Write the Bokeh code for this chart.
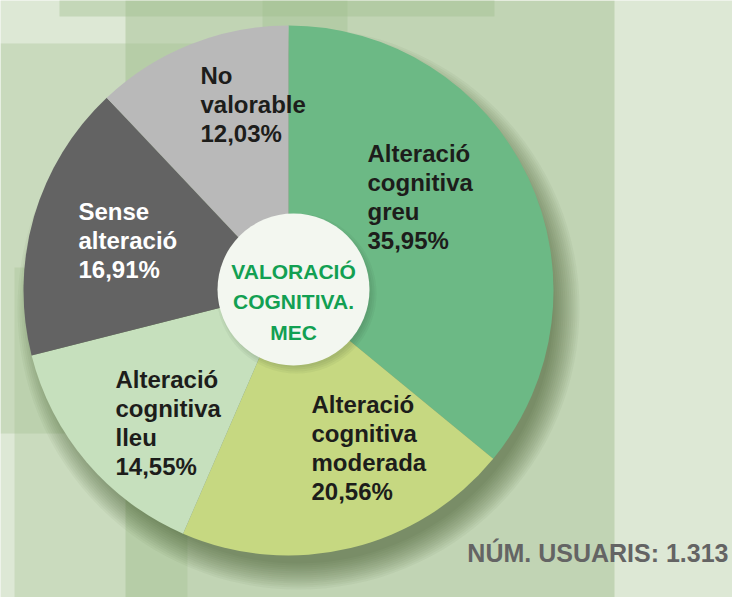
import math
from bokeh.plotting import figure
from bokeh.models import ColumnDataSource, Range1d
from bokeh.core.properties import value
from bokeh.embed import file_html
from bokeh.resources import INLINE

# ---------------- data ----------------
categories = ["Alteració cognitiva greu", "Alteració cognitiva moderada",
              "Alteració cognitiva lleu", "Sense alteració", "No valorable"]
percentages = [35.95, 20.56, 14.55, 16.91, 12.03]
label_names = [["Alteració", "cognitiva", "greu"],
               ["Alteració", "cognitiva", "moderada"],
               ["Alteració", "cognitiva", "lleu"],
               ["Sense", "alteració"],
               ["No", "valorable"]]
center_title = ["VALORACIÓ", "COGNITIVA.", "MEC"]
users_label = "NÚM. USUARIS: 1.313"

# ---------------- styles / layout ----------------
slice_colors = ["#6cb985", "#c6d881", "#c6e0bd", "#636363", "#b9b9b9"]
label_colors = ["#1d1d1b", "#1d1d1b", "#1d1d1b", "#ffffff", "#1d1d1b"]
# first-line baseline positions (image pixel coords)
label_pos = [(375, 161), (319, 412), (123, 387), (86, 219), (208, 83)]
LINE = 29
BG = "#dde8d5"
H_IMG = 613


def Y(y):
    return H_IMG - y


W, H = 732, 597
p = figure(width=W, height=H, output_backend="svg", toolbar_location=None,
           x_range=Range1d(8, 8 + W), y_range=Range1d(8, 8 + H),
           background_fill_color=BG, border_fill_color=BG,
           min_border=0, outline_line_color=None)
p.axis.visible = False
p.grid.visible = False

# decorative translucent panels
rects = [(67, 0, 502, 24, 0.40), (133, 8, 622, 613, 0.45),
         (8, 51, 290, 441, 0.32), (22, 275, 195, 613, 0.30),
         (270, 8, 355, 51, 0.35)]
for (x0, y0, x1, y1, a) in rects:
    p.quad(left=x0, right=x1, top=Y(y0), bottom=Y(y1),
           fill_color="#9fbd8c", fill_alpha=a, line_color=None)

cx, cy, R = 296, 298, 265

# soft drop shadow of the pie (mostly lower right)
for i in range(14):
    p.circle(x=cx + 10, y=Y(cy + 18), radius=R - 10 + i * 2,
             fill_color="#2b3a22", fill_alpha=0.045, line_color=None)

# pie slices from data
total = sum(percentages)
starts, ends = [], []
cum = 0.0
for v in percentages:
    starts.append(math.pi / 2 - 2 * math.pi * cum / total)
    cum += v
    ends.append(math.pi / 2 - 2 * math.pi * cum / total)
src = ColumnDataSource(dict(start=starts, end=ends, color=slice_colors,
                            cat=categories, val=percentages))
p.wedge(x=cx, y=Y(cy), radius=R, start_angle="start", end_angle="end",
        direction="clock", fill_color="color", line_color=None, source=src)

# centre disc
for i in range(4):
    p.circle(x=304, y=Y(301), radius=74 + i * 2, fill_color="#2b3a22",
             fill_alpha=0.05, line_color=None)
p.circle(x=301, y=Y(297), radius=76, fill_color="#f3f7f0", line_color=None)

# slice labels
xs, ys, txt, cols = [], [], [], []
for names, v, (lx, ly), c in zip(label_names, percentages, label_pos, label_colors):
    lines = names + [f"{v:.2f}".replace(".", ",") + "%"]
    for k, ln in enumerate(lines):
        xs.append(lx)
        ys.append(Y(ly + k * LINE))
        txt.append(ln)
        cols.append(c)
lsrc = ColumnDataSource(dict(x=xs, y=ys, text=txt, color=cols))
p.text(x="x", y="y", text="text", text_color="color", source=lsrc,
       text_font=value("Liberation Sans"), text_font_style="bold",
       text_font_size="24px", text_baseline="alphabetic", text_align="left")

# centre title
p.text(x=[301] * 3, y=[Y(279), Y(309), Y(340)], text=center_title,
       text_color="#12a052", text_font=value("Liberation Sans"),
       text_font_style="bold", text_font_size="21px",
       text_baseline="alphabetic", text_align="center")

# users count
p.text(x=[736], y=[Y(560)], text=[users_label], text_color="#646464",
       text_font=value("Liberation Sans"), text_font_style="bold",
       text_font_size="25px", text_baseline="alphabetic", text_align="right")

open("out.html", "w").write(file_html(p, INLINE))
